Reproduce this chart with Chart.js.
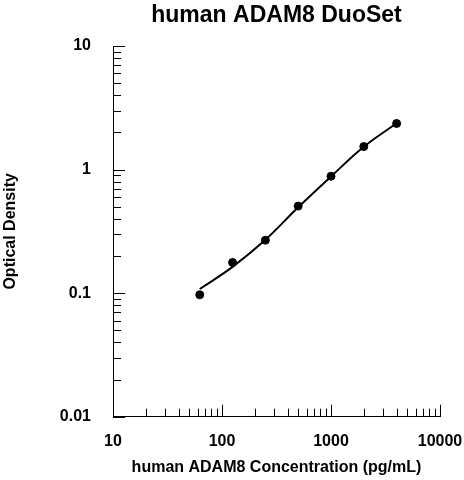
<!DOCTYPE html>
<html>
<head>
<meta charset="utf-8">
<script src="https://cdn.jsdelivr.net/npm/chart.js@4/dist/chart.umd.min.js"></script>
<style>
    body { margin: 0; background: #fff; }
    #wrap { width: 464px; height: 480px; }
</style>
</head>
<body>
<div id="wrap"><canvas id="adamChart" width="464" height="480"></canvas></div>
<script>
// Стандарты (pg/mL) и измеренная оптическая плотность
const concentrations = [62.5, 125, 250, 500, 1000, 2000, 4000];
const opticalDensity = [0.097, 0.177, 0.268, 0.506, 0.883, 1.535, 2.36];

// Аппроксимирующая кривая
const curveConcentrations = [62.5, 125, 250, 500, 1000, 2000, 4000];
const curveDensity = [0.108, 0.163, 0.270, 0.495, 0.878, 1.53, 2.37];

// Подписи делений
const xDecades = [10, 100, 1000];
const yDecades = [0.01, 0.1, 1];
const xTickLabels = ['10', '100', '1000', '10000'];
const yTickLabels = ['0.01', '0.1', '1', '10'];

const FONT = '"Liberation Sans", Arial, sans-serif';

function buildLogTicks(decades) {
    const ticks = [];
    decades.forEach((d) => {
        for (let m = 1; m < 10; m++) {
            ticks.push({value: parseFloat((d * m).toPrecision(6))});
        }
    });
    const last = decades[decades.length - 1] * 10;
    ticks.push({value: parseFloat(last.toPrecision(6))});
    return ticks;
}

function isDecade(value) {
    const l = Math.log10(value);
    return Math.abs(l - Math.round(l)) < 1e-9;
}

function labelFor(value, decades, labels) {
    if (!isDecade(value)) {
        return '';
    }
    const idx = Math.round(Math.log10(value) - Math.log10(decades[0]));
    return labels[idx] ?? '';
}

// Засечки внутрь области графика
const innerTicks = {
    id: 'innerTicks',
    afterDraw(chart) {
        const {ctx, chartArea} = chart;
        const xs = chart.scales.x;
        const ys = chart.scales.y;
        ctx.save();
        ctx.strokeStyle = '#000';
        ctx.lineWidth = 1;
        ctx.beginPath();
        xs.ticks.forEach((t) => {
            const px = Math.round(xs.getPixelForValue(t.value)) + 0.5;
            const len = isDecade(t.value) ? 12 : 8;
            ctx.moveTo(px, chartArea.bottom);
            ctx.lineTo(px, chartArea.bottom - len);
        });
        ys.ticks.forEach((t) => {
            const py = Math.round(ys.getPixelForValue(t.value)) + 0.5;
            const len = isDecade(t.value) ? 12 : 8;
            ctx.moveTo(chartArea.left, py);
            ctx.lineTo(chartArea.left + len, py);
        });
        ctx.stroke();
        ctx.restore();
    },
};

new Chart(document.getElementById('adamChart'), {
    type: 'scatter',
    data: {
        datasets: [
            {
                type: 'line',
                label: 'Кривая',
                data: curveConcentrations.map((c, i) => ({x: c, y: curveDensity[i]})),
                borderColor: '#000',
                borderWidth: 2,
                pointRadius: 0,
                fill: false,
                tension: 0.4,
            },
            {
                label: 'Стандарты',
                data: concentrations.map((c, i) => ({x: c, y: opticalDensity[i]})),
                backgroundColor: '#000',
                borderColor: '#000',
                pointRadius: 4,
                pointHoverRadius: 4,
            },
        ],
    },
    options: {
        responsive: false,
        animation: false,
        layout: {padding: {left: 0, right: 24, top: 0, bottom: 0}},
        plugins: {
            legend: {display: false},
            tooltip: {enabled: false},
            title: {
                display: true,
                fullSize: false,
                text: 'human ADAM8 DuoSet',
                color: '#000',
                font: {family: FONT, size: 23, weight: 'bold'},
                padding: {top: 2, bottom: 16.4},
            },
        },
        scales: {
            x: {
                type: 'logarithmic',
                position: 'bottom',
                min: 10,
                max: 10000,
                afterBuildTicks: (scale) => { scale.ticks = buildLogTicks(xDecades); },
                afterFit: (scale) => {
                    scale.height = 63.3;
                    scale.paddingLeft = 0;
                    scale.paddingRight = 0;
                },
                grid: {display: false, drawTicks: false},
                border: {display: true, color: '#000', width: 1},
                ticks: {
                    autoSkip: false,
                    maxRotation: 0,
                    padding: 15,
                    color: '#000',
                    font: {family: FONT, size: 16, weight: 'bold'},
                    callback: (value) => labelFor(value, xDecades, xTickLabels),
                },
                title: {
                    display: true,
                    text: 'human ADAM8 Concentration (pg/mL)',
                    color: '#000',
                    font: {family: FONT, size: 16, weight: 'bold'},
                    padding: {top: 0, bottom: 3},
                },
            },
            y: {
                type: 'logarithmic',
                min: 0.01,
                max: 10,
                afterBuildTicks: (scale) => { scale.ticks = buildLogTicks(yDecades); },
                afterFit: (scale) => { scale.width = 113; },
                grid: {display: false, drawTicks: false},
                border: {display: true, color: '#000', width: 1},
                ticks: {
                    autoSkip: false,
                    padding: 22,
                    color: '#000',
                    font: {family: FONT, size: 16, weight: 'bold'},
                    callback: (value) => labelFor(value, yDecades, yTickLabels),
                },
                title: {
                    display: true,
                    text: 'Optical Density',
                    color: '#000',
                    font: {family: FONT, size: 16, weight: 'bold'},
                    padding: {top: 1.4, bottom: 0},
                },
            },
        },
    },
    plugins: [innerTicks],
});
</script>
</body>
</html>
